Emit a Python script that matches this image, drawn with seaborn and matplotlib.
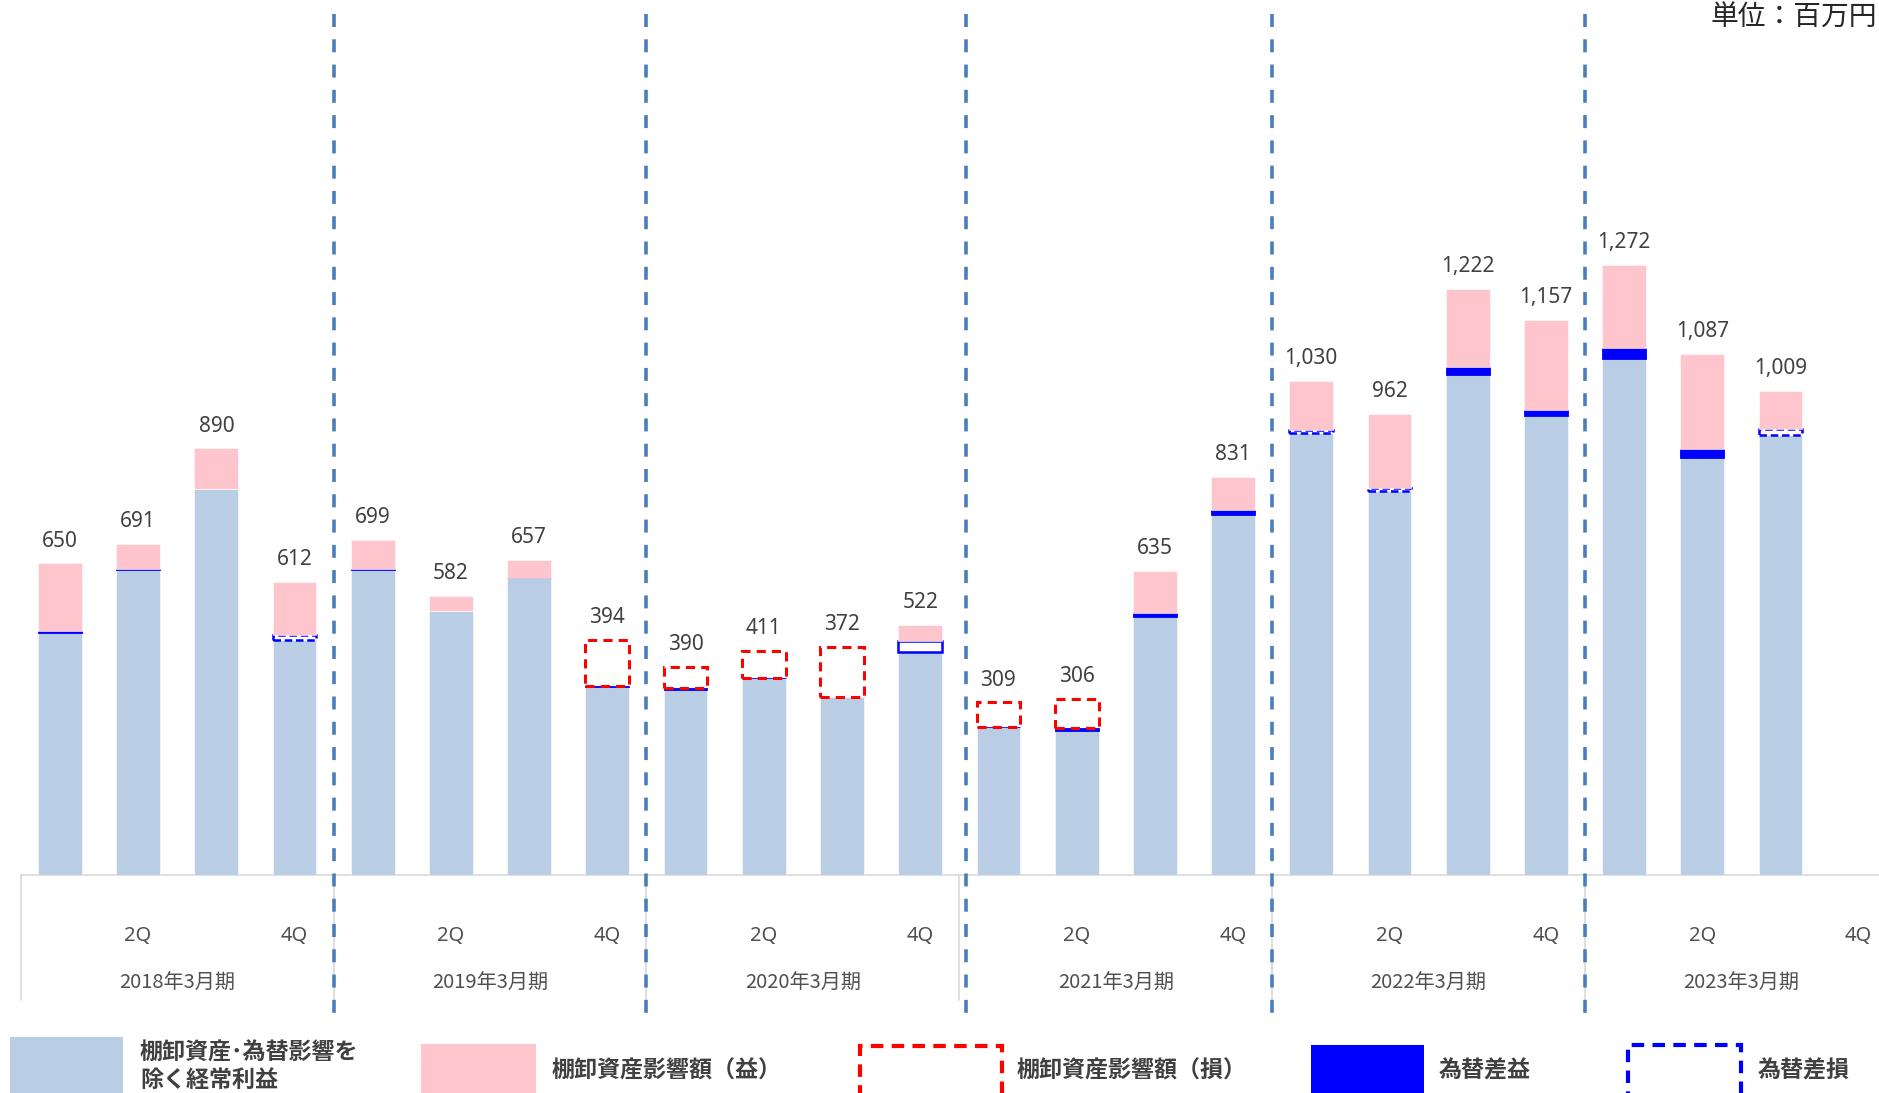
import numpy as np
import pandas as pd
import seaborn as sns
import matplotlib.pyplot as plt
import matplotlib.transforms as mtransforms
from matplotlib.patches import Rectangle

# data (百万円)
years = ['2018年3月期', '2019年3月期', '2020年3月期', '2021年3月期', '2022年3月期', '2023年3月期']
quarters = ['1Q', '2Q', '3Q', '4Q']
quarter_ticks = ['', '2Q', '', '4Q']

totals = [650, 691, 890, 612, 699, 582, 657, 394, 390, 411, 372, 522,
          309, 306, 635, 831, 1030, 962, 1222, 1157, 1272, 1087, 1009, None]
base = [504, 636, 804, 491, 637, 551, 619, 393, 386, 410, 372, 466,
        308, 300, 538, 750, 921, 800, 1042, 958, 1077, 870, 917, 0]
fx_gain = [4, 2, 0, 0, 1, 0, 1, 1, 4, 1, 0, 0,
           1, 6, 8, 12, 0, 0, 18, 12, 23, 18, 0, 0]
fx_loss = [0, 0, 0, 9, 0, 0, 0, 0, 0, 0, 0, 21,
           0, 0, 0, 0, 7, 8, 0, 0, 0, 0, 14, 0]
inv_gain = [142, 53, 86, 112, 61, 31, 37, 0, 0, 0, 0, 35,
            0, 0, 89, 69, 102, 154, 162, 187, 172, 199, 78, 0]
inv_loss = [0, 0, 0, 0, 0, 0, 0, 97, 44, 57, 104, 0,
            51, 62, 0, 0, 0, 0, 0, 0, 0, 0, 0, 0]

periods = [y[:4] + '-' + q for y in years for q in quarters]
df = pd.DataFrame({'period': periods, 'base': base, 'fx_gain': fx_gain,
                   'fx_loss': fx_loss, 'inv_gain': inv_gain, 'inv_loss': inv_loss})

LIGHT_BLUE = '#B9CDE5'
PINK = '#FFC5CC'
BLUE = '#0000FF'
RED = '#FF0000'
DIV = '#4A7EBB'
GRID = '#D9D9D9'
TXT = '#404040'

sns.set_style('white')
plt.rcParams['font.family'] = ['Noto Sans CJK JP', 'DejaVu Sans']

W, H = 1879, 1093
fig = plt.figure(figsize=(W / 100, H / 100), dpi=100)
ax = fig.add_axes([20.8 / W, 1 - 875 / H, 1877 / W, 875 / H])

BW = 0.56
layers = [
    ('base', LIGHT_BLUE, dict(facecolor=LIGHT_BLUE, edgecolor='white', linewidth=0.4)),
    ('fx_gain', BLUE, dict(facecolor=BLUE, edgecolor=BLUE, linewidth=0.6)),
    ('fx_loss', BLUE, dict(facecolor='white', edgecolor=BLUE, linewidth=1.8, linestyle=(0, (3, 1.5)))),
    ('inv_gain', PINK, dict(facecolor=PINK, edgecolor='white', linewidth=0.4)),
    ('inv_loss', RED, dict(facecolor='none', edgecolor=RED, linewidth=2.2, linestyle=(0, (3, 2)))),
]
bottom = np.zeros(len(df))
for col, c, style in layers:
    n0 = len(ax.patches)
    sns.barplot(data=df, x='period', y=col, order=periods, bottom=bottom.copy(),
                color=c, saturation=1, width=BW, errorbar=None, ax=ax, zorder=3, **style)
    for i, p in enumerate(ax.patches[n0:]):
        if df[col].iloc[i] == 0:
            p.set_visible(False)
    bottom += df[col].to_numpy()

# 2020年3月期 4Q の枠は実線
ax.patches[2 * len(df) + 11].set_linestyle('-')

# value labels
for i, v in enumerate(totals):
    if v is None:
        continue
    ax.annotate(f'{v:,}', (i, bottom[i]), xytext=(0, 16), textcoords='offset points',
                ha='center', va='center', fontsize=15, color=TXT,
                family=['Noto Sans', 'DejaVu Sans'])

ax.set_xlim(-0.5, 23.5)
ax.set_ylim(0, 875 / 0.4795)
ax.set_xlabel('')
ax.set_ylabel('')
ax.set_yticks([])
ax.set_xticks(range(len(periods)))
ax.set_xticklabels(quarter_ticks * len(years), family=['Noto Sans', 'DejaVu Sans'])
ax.tick_params(axis='x', length=0, pad=37, labelsize=14.5, labelcolor='#505050')
for s in ['left', 'top', 'right']:
    ax.spines[s].set_visible(False)
ax.spines['bottom'].set_color(GRID)
ax.spines['bottom'].set_linewidth(1.2)

trans = mtransforms.blended_transform_factory(ax.transData, ax.transAxes)
for b in [-0.5, 3.5, 7.5, 11.5, 15.5, 19.5]:
    ax.plot([b, b], [0, -0.143], transform=trans, color=GRID, lw=1.2, clip_on=False)
for b in [3.5, 7.5, 11.58, 15.5, 19.5]:
    ax.plot([b, b], [0.984, -0.167], transform=trans, color=DIV, lw=2.6,
            linestyle=(0, (3.6, 3.4)), clip_on=False, zorder=5)

for g, y in enumerate(years):
    ax.text(4 * g + 1.5, -0.1234, y, transform=trans, ha='center', va='center',
            fontsize=14.5, color='#505050')

fig.text(0.999, 1 - 18 / H, '単位：百万円', ha='right', va='center', fontsize=20, color='#262626')


# legend along the bottom edge
def rect_px(x0, y0, x1, y1, **kw):
    r = Rectangle((x0 / W, 1 - y1 / H), (x1 - x0) / W, (y1 - y0) / H,
                  transform=fig.transFigure, **kw)
    fig.add_artist(r)


rect_px(10, 1037, 123, 1110, facecolor=LIGHT_BLUE, edgecolor='none')
rect_px(421, 1044, 536, 1110, facecolor=PINK, edgecolor='none')
rect_px(860, 1046, 1002, 1110, facecolor='none', edgecolor=RED, lw=3, linestyle=(0, (3, 2)))
rect_px(1311, 1045, 1424, 1110, facecolor=BLUE, edgecolor='none')
rect_px(1628, 1045, 1741, 1110, facecolor='none', edgecolor=BLUE, lw=3, linestyle=(0, (3, 2)))

leg_kw = dict(fontsize=16.6, fontweight='bold', color=TXT, va='center', ha='left')
fig.text(140 / W, 1 - 1053 / H, '棚卸資産･為替影響を', **leg_kw)
fig.text(140 / W, 1 - 1080 / H, '除く経常利益', **leg_kw)
fig.text(552 / W, 1 - 1071 / H, '棚卸資産影響額（益）', **leg_kw)
fig.text(1017 / W, 1 - 1071 / H, '棚卸資産影響額（損）', **leg_kw)
fig.text(1439 / W, 1 - 1071 / H, '為替差益', **leg_kw)
fig.text(1758 / W, 1 - 1071 / H, '為替差損', **leg_kw)

fig.savefig('out.png', dpi=100)
